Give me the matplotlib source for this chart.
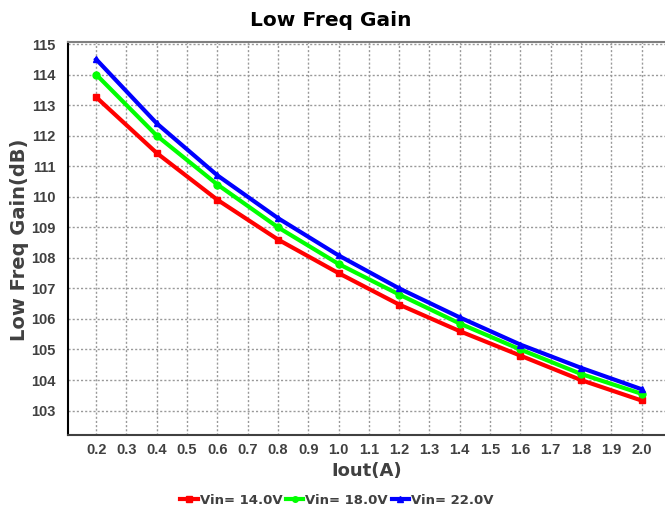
import matplotlib
matplotlib.use("Agg")
import matplotlib.pyplot as plt
import numpy as np

plt.rcParams['font.family'] = ['Liberation Sans', 'DejaVu Sans']

iout = [0.2, 0.4, 0.6, 0.8, 1.0, 1.2, 1.4, 1.6, 1.8, 2.0]
vin14 = [113.26, 111.43, 109.9, 108.6, 107.5, 106.47, 105.6, 104.8, 104.0, 103.33]
vin18 = [114.0, 112.0, 110.4, 109.0, 107.8, 106.8, 105.85, 105.0, 104.2, 103.55]
vin22 = [114.5, 112.4, 110.7, 109.3, 108.08, 107.0, 106.05, 105.16, 104.4, 103.7]
labels = ["Vin= 14.0V", "Vin= 18.0V", "Vin= 22.0V"]
xticks = [round(0.2 + 0.1 * i, 1) for i in range(19)]
yticks = list(range(103, 116))

fig = plt.figure(figsize=(6.65, 5.11), dpi=100)
ax = fig.add_axes([0.1023, 0.1487, 0.897, 0.7693])

series = [(vin14, '#ff0000', 's'), (vin18, '#00ff00', 'o'), (vin22, '#0000ff', '^')]
handles = []
for (data, col, mk), lab in zip(series, labels):
    h, = ax.plot(iout, data, color=col, lw=3, marker=mk, ms=5, label=lab)
    handles.append(h)

ax.set_xlim(0.107, 2.076)
ax.set_ylim(102.2, 115.07)
ax.set_xticks(xticks)
ax.set_xticklabels([f"{x:.1f}" for x in xticks])
ax.set_yticks(yticks)
ax.tick_params(length=0, labelsize=10.5, labelcolor='#404040')
ax.tick_params(axis='x', pad=6)
ax.tick_params(axis='y', pad=9)
for lbl in ax.get_xticklabels() + ax.get_yticklabels():
    lbl.set_fontweight('bold')
ax.grid(True, color='#999999', linestyle=(0, (1.5, 1.5)), lw=1)

ax.spines['right'].set_visible(False)
ax.spines['top'].set_color('#808080')
ax.spines['top'].set_linewidth(1.5)
ax.spines['left'].set_color('#000000')
ax.spines['left'].set_linewidth(1.5)
ax.spines['bottom'].set_color('#404040')
ax.spines['bottom'].set_linewidth(1.5)

fig.text(0.497, 1 - 20 / 511, "Low Freq Gain", fontsize=14.5, fontweight='bold',
         family='DejaVu Sans', color='#000000', ha='center', va='center')
fig.text(367 / 665, 1 - 471 / 511, "Iout(A)", fontsize=13, fontweight='bold',
         family='DejaVu Sans', color='#404040', ha='center', va='center')
fig.text(20 / 665, 1 - 240 / 511, "Low Freq Gain(dB)", fontsize=14, fontweight='bold',
         family='DejaVu Sans', color='#404040', ha='center', va='center', rotation=90)

fig.legend(handles=handles, labels=labels, loc='center', bbox_to_anchor=(337 / 665, 1 - 500 / 511),
           ncol=3, frameon=False, handlelength=1.3, handletextpad=0.15, columnspacing=0.3,
           prop={'weight': 'bold', 'size': 9.5, 'family': 'DejaVu Sans'},
           labelcolor='#404040', markerscale=0.8)

fig.savefig("out.png", dpi=100)
